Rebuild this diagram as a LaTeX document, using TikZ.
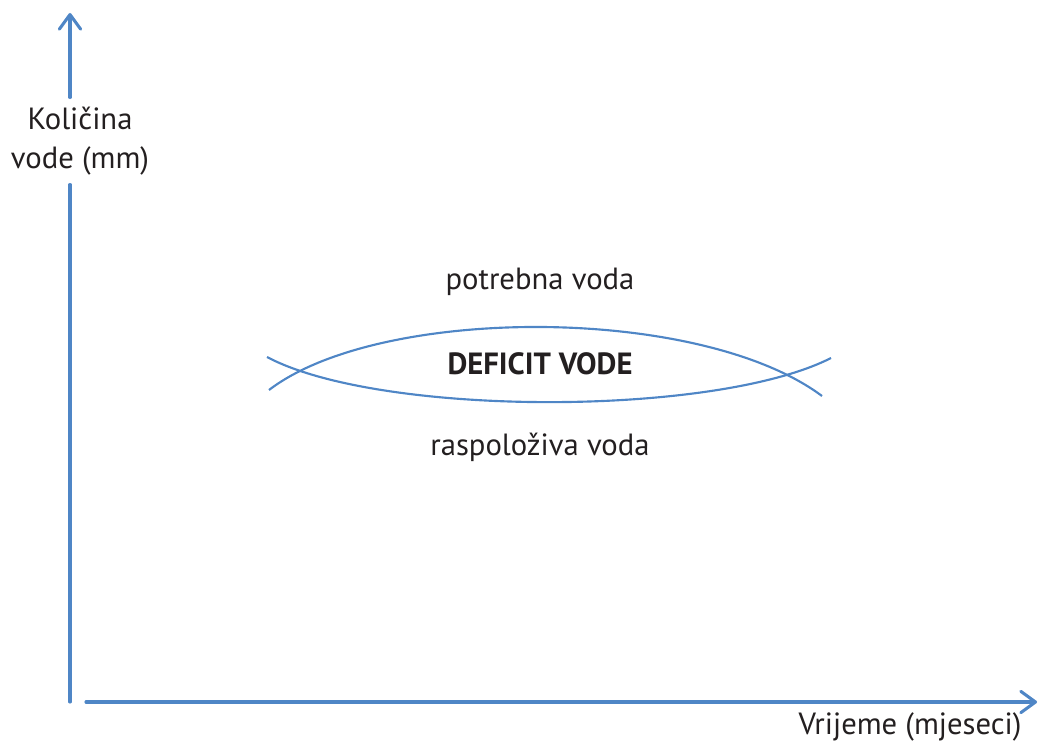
\documentclass[tikz,border=0pt]{standalone}
\usepackage{fontspec}
\setmainfont{PT Sans}
\usetikzlibrary{arrows.meta}
\definecolor{lineblue}{RGB}{79,134,198}
\definecolor{inkgray}{RGB}{35,31,32}
\tikzset{
  axis/.style={draw=lineblue,line width=2.3pt,line cap=round},
  arrowtip/.style={-{Straight Barb[length=11pt,width=16pt,round]}},
  waterline/.style={draw=lineblue,line width=1.6pt},
  lbl/.style={font=\fontsize{23}{29}\selectfont,text=inkgray,inner sep=0pt}
}
\begin{document}
\begin{tikzpicture}[x=0.75pt,y=0.75pt,yscale=-1,xscale=1]
    \useasboundingbox (0,0) rectangle (1038,742);
    % axes
    \coordinate (orig) at (70,702);
    \coordinate (ytip) at (70,13);
    \coordinate (xstart) at (86,702);
    \coordinate (xtip) at (1037,702);
    \node (ylab) at (80,141) [lbl,align=center,inner ysep=7pt] {Količina\\vode (mm)};
    \draw [axis] (orig) -- (ylab.south -| orig);
    \draw [axis,arrowtip] (ylab.north -| orig) -- (ytip);
    \draw [axis,arrowtip] (xstart) -- (xtip);
    \node (xlab) at (910,727) [lbl] {Vrijeme (mjeseci)};
    % curves
    \coordinate (needL) at (269,390);
    \coordinate (needR) at (822,396);
    \coordinate (availL) at (267,357);
    \coordinate (availR) at (831,358);
    \draw [waterline] (needL) .. controls (380,305) and (700,305) .. (needR);
    \draw [waterline] (availL) .. controls (380,417) and (715,417) .. (availR);
    \node (need) at (540,282) [lbl] {potrebna voda};
    \node (deficit) at (540,364) [lbl,font=\fontsize{23}{29}\selectfont\bfseries] {DEFICIT VODE};
    \node (avail) at (540,447) [lbl] {raspoloživa voda};
\end{tikzpicture}
\end{document}
